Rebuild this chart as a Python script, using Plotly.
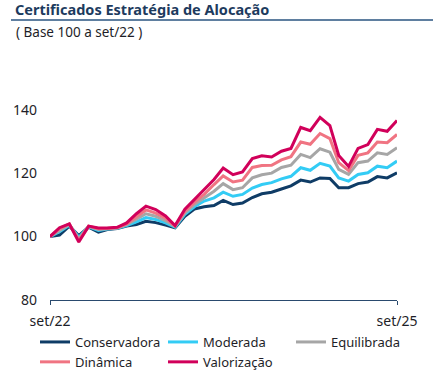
import pandas as pd
import plotly.graph_objects as go

months = pd.date_range("2022-09-01", "2025-09-01", freq="MS")

conservadora = [100, 100.5, 103.3, 100.3, 103, 101.4, 102.2, 102.5, 103.3, 103.8,
                104.8, 104.4, 103.6, 102.8, 106.4, 108.7, 109.4, 109.8, 111.4, 110.1,
                110.6, 112.3, 113.5, 114, 115, 116, 117.8, 117.2, 118.5, 118.3,
                115.4, 115.4, 116.7, 117.2, 118.9, 118.5, 120.1]
moderada = [100, 101.5, 103.6, 99.8, 103.1, 101.9, 102.4, 102.6, 103.5, 104.6,
            106, 105.4, 104.3, 103, 107, 109.4, 111.2, 112.2, 114, 112.7,
            113.3, 115.3, 116.4, 117, 118.2, 119, 121.7, 120.9, 123.1, 122.2,
            118.5, 117.5, 119.6, 120.1, 122.2, 121.7, 123.8]
equilibrada = [100, 102, 103.8, 99.3, 103.2, 102.2, 102.5, 102.7, 103.8, 105.5,
               107.2, 106.4, 105, 103.2, 107.5, 110.1, 112.2, 114.3, 116.7, 114.8,
               115.4, 118.5, 119.5, 120, 121.8, 122.5, 125.9, 124.9, 127.7, 126.6,
               121.2, 119.6, 123.3, 123.8, 126.4, 125.9, 128]
dinamica = [100, 102.5, 104, 98.8, 103.3, 102.5, 102.6, 102.8, 104, 106.3,
            108.4, 107.4, 105.8, 103.3, 108, 110.8, 113.3, 116.4, 119.1, 117.2,
            117.8, 121.8, 122.4, 122.5, 124.2, 125.2, 129.8, 129.1, 132.5, 130.9,
            123.3, 120.8, 125.6, 126.4, 129.8, 129.6, 132.2]
valorizacao = [100, 102.8, 104, 98.3, 103.3, 102.7, 102.7, 102.9, 104.3, 107.2,
               109.6, 108.5, 106.5, 103.5, 108.6, 111.7, 114.8, 118, 121.6, 119.5,
               120.4, 124.6, 125.5, 125.1, 126.9, 127.8, 134.4, 133.4, 137.6, 135,
               125.6, 122.1, 127.8, 129, 133.8, 133.2, 136.6]

series_names = ["Conservadora", "Moderada", "Equilibrada", "Dinâmica", "Valorização"]
series_values = [conservadora, moderada, equilibrada, dinamica, valorizacao]
series_colors = ["#0f3c66", "#33ccf5", "#a6a6a6", "#f07482", "#d1005a"]

y_ticks = [80, 100, 120, 140]
x_tick_labels = ["set/22", "set/25"]

title_text = "Certificados Estratégia de Alocação"
subtitle_text = "( Base 100 a set/22 )"

FONT = "Noto Sans"
TEXT = "#1e1e28"
NAVY = "#1d3b5e"

fig = go.Figure()
for name, vals, col in zip(series_names, series_values, series_colors):
    fig.add_trace(go.Scatter(x=months, y=vals, mode="lines", name=name,
                             line=dict(color=col, width=3)))

W, H = 445, 370
ml, mr, mt, mb = 50, 48, 78, 70
pw = W - ml - mr
ph = H - mt - mb

fig.update_layout(
    width=W, height=H,
    margin=dict(l=ml, r=mr, t=mt, b=mb, pad=0, autoexpand=False),
    paper_bgcolor="white", plot_bgcolor="white",
    font=dict(family=FONT, size=13, color=TEXT),
    showlegend=True,
    legend=dict(orientation="h", x=(35 - ml) / pw, xanchor="left",
                y=-(327 - (H - mb)) / ph, yanchor="top",
                entrywidth=83, entrywidthmode="pixels",
                font=dict(size=13, color=TEXT), tracegroupgap=0,
                itemwidth=30, bgcolor="rgba(0,0,0,0)"),
    xaxis=dict(range=[months[0], months[-1]], showgrid=False, zeroline=False,
               showline=True, linecolor="#2a4a6e", linewidth=1,
               tickvals=[months[0], months[-1]], ticktext=x_tick_labels,
               ticks="outside", ticklen=4, tickcolor="#2a4a6e", tickwidth=1,
               ticklabelstandoff=4, automargin=False,
               tickfont=dict(size=14, color=TEXT)),
    yaxis=dict(range=[80, 150], showgrid=False, zeroline=False, showline=False,
               tickvals=y_ticks, ticks="", ticklabelstandoff=12, automargin=False,
               tickfont=dict(size=14, color=TEXT)),
    title=dict(text="<b>" + title_text + "</b>", x=15 / W, xref="container",
               xanchor="left", y=1 - 10 / H, yref="container", yanchor="middle",
               font=dict(family=FONT, size=14.5, color=NAVY)),
)

fig.add_annotation(text=subtitle_text, xref="paper", yref="paper",
                   x=(14 - ml) / pw, xanchor="left",
                   y=1 + (mt - 32) / ph, yanchor="middle",
                   showarrow=False, font=dict(family=FONT, size=13.5, color=TEXT))

fig.add_shape(type="line", xref="paper", yref="paper",
              x0=(11 - ml) / pw, x1=(433 - ml) / pw,
              y0=1 + (mt - 20) / ph, y1=1 + (mt - 20) / ph,
              line=dict(color="#5f7fa0", width=2))

fig.write_html("out.html", config={"displayModeBar": False},
               post_script="document.body.style.margin='0';document.body.style.overflow='hidden';")
